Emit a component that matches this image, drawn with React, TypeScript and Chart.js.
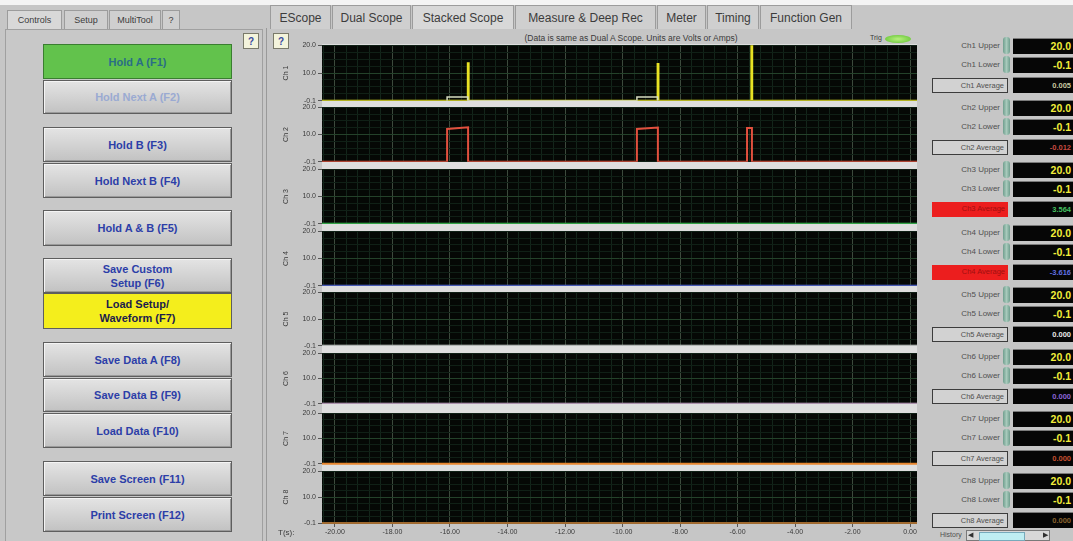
import React, { useEffect, useRef } from "react";
import { Chart, registerables } from "chart.js";

Chart.register(...registerables);

// ---------------- DATA ----------------
const channelNames = ["Ch 1", "Ch 2", "Ch 3", "Ch 4", "Ch 5", "Ch 6", "Ch 7", "Ch 8"];
const channelColors = ["#e8e224", "#e2503e", "#3fcf5a", "#5a6ee8", "#e8e8e8", "#e0b8e0", "#e8862e", "#a06a30"];
const yTickLabels = ["-0.1", "10.0", "20.0"];
const yMin = -0.1;
const yMax = 20.0;
const xMin = -20.45;
const xMax = 0.24;

const baselineTimes = [-20.45, 0.24];
const baselineValues = [-0.1, -0.1];

const ch1Times = [-20.45, -15.38, -15.38, -15.35, -15.35, -8.78, -8.78, -8.75, -8.75, -5.52, -5.52, -5.49, -5.49, 0.24];
const ch1Values = [-0.1, -0.1, 13.5, 13.5, -0.1, -0.1, 13.2, 13.2, -0.1, -0.1, 20.0, 20.0, -0.1, -0.1];
const ch1StepTimes = [-16.1, -16.1, -15.38, -15.38, -9.5, -9.5, -8.78, -8.78];
const ch1StepValues = [-0.1, 1.3, 1.3, -0.1, -0.1, 1.3, 1.3, -0.1];

const ch2Times = [-20.45, -16.1, -16.1, -15.37, -15.37, -9.5, -9.5, -8.77, -8.77, -5.67, -5.67, -5.5, -5.5, 0.24];
const ch2Values = [-0.1, -0.1, 12.0, 12.6, -0.1, -0.1, 12.0, 12.5, -0.1, -0.1, 12.3, 12.3, -0.1, -0.1];

const upperValues = ["20.0", "20.0", "20.0", "20.0", "20.0", "20.0", "20.0", "20.0"];
const lowerValues = ["-0.1", "-0.1", "-0.1", "-0.1", "-0.1", "-0.1", "-0.1", "-0.1"];
const averageValues = ["0.005", "-0.012", "3.564", "-3.616", "0.000", "0.000", "0.000", "0.000"];
const averageColors = ["#c8c8a0", "#c84a40", "#44c060", "#6070e0", "#e6e6e6", "#8a64d8", "#c45030", "#8a6430"];
const averageAlarm = [false, false, true, true, false, false, false, false];

// ---------------- LAYOUT ----------------
const panelTops = [45, 107, 169, 231, 292, 353, 413, 471];
const panelBottoms = [101, 162, 224, 286, 346, 404, 464, 523];
const PLOT_LEFT = 322;
const PLOT_RIGHT = 917;
const CANVAS_LEFT = 279;
const PAD = 6;
const XAXIS_H = 15;

const FONT = "'Liberation Sans', Arial, sans-serif";

function toPoints(xs: number[], ys: number[]) {
  return xs.map((x, i) => ({ x, y: ys[i] }));
}

const plotBg = {
  id: "plotBg",
  beforeDraw(chart: any) {
    const { ctx, chartArea } = chart;
    if (!chartArea) return;
    ctx.save();
    ctx.fillStyle = "#050805";
    ctx.fillRect(chartArea.left, chartArea.top, chartArea.right - chartArea.left, chartArea.bottom - chartArea.top);
    ctx.restore();
  },
};

function isMajorX(v: number) {
  return Math.abs(v / 2 - Math.round(v / 2)) < 1e-6;
}

function ScopePanel({ index }: { index: number }) {
  const ref = useRef<HTMLCanvasElement | null>(null);
  const isBottom = index === 7;
  const top = panelTops[index] - PAD;
  const plotH = panelBottoms[index] - panelTops[index];
  const height = plotH + PAD + (isBottom ? XAXIS_H : PAD);
  const width = PLOT_RIGHT + 5 - CANVAS_LEFT;

  useEffect(() => {
    if (!ref.current) return;
    const datasets: any[] = [];
    if (index === 0) {
      datasets.push({
        data: toPoints(ch1StepTimes, ch1StepValues),
        borderColor: "#d6dcc0",
        borderWidth: 1.5,
        pointRadius: 0,
        clip: 0,
      });
      datasets.push({
        data: toPoints(ch1Times, ch1Values),
        borderColor: channelColors[0],
        borderWidth: 2,
        pointRadius: 0,
        clip: 0,
      });
    } else if (index === 1) {
      datasets.push({
        data: toPoints(ch2Times, ch2Values),
        borderColor: channelColors[1],
        borderWidth: 2,
        pointRadius: 0,
        clip: 0,
      });
    } else {
      const visibleEdge = index >= 6;
      datasets.push({
        data: toPoints(baselineTimes, baselineValues),
        borderColor: channelColors[index],
        borderWidth: 2,
        pointRadius: 0,
        clip: visibleEdge ? 4 : 0,
      });
    }

    const chart = new Chart(ref.current, {
      type: "line",
      data: { datasets },
      plugins: [plotBg],
      options: {
        animation: false,
        responsive: false,
        events: [],
        layout: { padding: { top: PAD, bottom: isBottom ? 0 : PAD, left: 0, right: 5 } },
        plugins: { legend: { display: false }, tooltip: { enabled: false } },
        elements: { line: { tension: 0 } },
        scales: {
          x: {
            type: "linear",
            min: xMin,
            max: xMax,
            afterBuildTicks(scale: any) {
              const t = [];
              for (let i = -1; i <= 50; i++) t.push({ value: -20 + i * 0.4 });
              scale.ticks = t;
            },
            afterFit(scale: any) {
              scale.height = isBottom ? XAXIS_H : 0;
            },
            border: { display: false },
            grid: {
              drawTicks: isBottom,
              tickLength: 4,
              color: (ctx: any) => (ctx.tick && isMajorX(ctx.tick.value) ? "#3c4a3c" : "#13251a"),
              tickColor: (ctx: any) => (ctx.tick && isMajorX(ctx.tick.value) ? "#555" : "rgba(0,0,0,0)"),
              lineWidth: 1,
            },
            ticks: {
              display: isBottom,
              autoSkip: false,
              maxRotation: 0,
              padding: 1,
              color: "#3a3a3a",
              font: { family: FONT, size: 7 },
              callback: (v: any) => (isMajorX(Number(v)) ? Number(v).toFixed(2) : ""),
            },
          },
          y: {
            type: "linear",
            min: yMin,
            max: yMax,
            afterBuildTicks(scale: any) {
              const t = [];
              for (let i = 0; i <= 8; i++) t.push({ value: yMin + (i * (yMax - yMin)) / 8 });
              scale.ticks = t;
            },
            afterFit(scale: any) {
              scale.width = PLOT_LEFT - CANVAS_LEFT;
            },
            border: { display: false },
            title: {
              display: true,
              text: channelNames[index],
              color: "#3a3a3a",
              font: { family: FONT, size: 7 },
              padding: { top: 3, bottom: 0 },
            },
            grid: {
              tickLength: 4,
              color: (ctx: any) => (ctx.index === 4 ? "#24422a" : "#102016"),
              tickColor: (ctx: any) => (ctx.index % 4 === 0 ? "#555" : "rgba(0,0,0,0)"),
            },
            ticks: {
              autoSkip: false,
              padding: 2,
              color: "#3a3a3a",
              font: { family: FONT, size: 7 },
              callback: (_v: any, i: number) => (i === 0 ? yTickLabels[0] : i === 4 ? yTickLabels[1] : i === 8 ? yTickLabels[2] : ""),
            },
          },
        },
      } as any,
    });
    return () => chart.destroy();
  }, [index]);

  return (
    <canvas
      ref={ref}
      width={width}
      height={height}
      style={{ position: "absolute", left: CANVAS_LEFT, top, width, height }}
    />
  );
}

function Btn({ top, h, label, kind }: { top: number; h: number; label: React.ReactNode; kind?: string }) {
  let bg = "linear-gradient(#e4e4e4, #c2c2c2)";
  let color = "#2c3ea8";
  let border = "1px solid #5e5e5e";
  if (kind === "green") {
    bg = "#62c24c";
    color = "#2a6e86";
    border = "1px solid #3a7e30";
  } else if (kind === "disabled") {
    color = "#9aaad2";
  } else if (kind === "yellow") {
    bg = "#f4ee1c";
    color = "#1c1c4c";
  }
  return (
    <div
      style={{
        position: "absolute",
        left: 43,
        top,
        width: 189,
        height: h,
        background: bg,
        border,
        boxSizing: "border-box",
        boxShadow: kind === "yellow" || kind === "green" ? "none" : "inset 1px 1px 0 #f4f4f4, inset -1px -1px 0 #9a9a9a",
        color,
        fontFamily: FONT,
        fontWeight: "bold",
        fontSize: 11,
        lineHeight: "14px",
        display: "flex",
        alignItems: "center",
        justifyContent: "center",
        textAlign: "center",
      }}
    >
      <div>{label}</div>
    </div>
  );
}

function Tab({ left, width, text, top, h, size, active }: any) {
  return (
    <div
      style={{
        position: "absolute",
        left,
        top,
        width,
        height: h,
        boxSizing: "border-box",
        border: "1px solid #9c9c9c",
        borderBottom: "none",
        background: active ? "#d8d8d8" : "#cfcfcf",
        color: "#3c3c3c",
        fontFamily: FONT,
        fontSize: size,
        display: "flex",
        alignItems: "center",
        justifyContent: "center",
        whiteSpace: "nowrap",
      }}
    >
      {text}
    </div>
  );
}

function QBtn({ left, top }: { left: number; top: number }) {
  return (
    <div
      style={{
        position: "absolute",
        left,
        top,
        width: 16,
        height: 16,
        boxSizing: "border-box",
        border: "1px solid #7a7a6a",
        background: "#f4f4dc",
        color: "#3a4aa0",
        fontFamily: FONT,
        fontWeight: "bold",
        fontSize: 10,
        display: "flex",
        alignItems: "center",
        justifyContent: "center",
      }}
    >
      ?
    </div>
  );
}

function Display({ top, text, color, size }: { top: number; text: string; color: string; size: number }) {
  return (
    <div
      style={{
        position: "absolute",
        left: 1013,
        top,
        width: 60,
        height: 16,
        background: "#060606",
        borderTop: "1px solid #7a7a7a",
        boxSizing: "border-box",
        color,
        fontFamily: FONT,
        fontWeight: "bold",
        fontSize: size,
        textAlign: "right",
        paddingRight: 2,
        lineHeight: "15px",
      }}
    >
      {text}
    </div>
  );
}

function Spinner({ top }: { top: number }) {
  return (
    <div
      style={{
        position: "absolute",
        left: 1003,
        top,
        width: 7,
        height: 17,
        borderRadius: 3,
        background: "linear-gradient(90deg,#6f9e8e,#a8cabc,#6f9e8e)",
      }}
    />
  );
}

function ChannelBlock({ n }: { n: number }) {
  const base = 37 + 62.2 * n;
  const name = "Ch" + (n + 1);
  const lbl: React.CSSProperties = {
    position: "absolute",
    right: 1073 - 1000,
    fontFamily: FONT,
    fontSize: 8,
    color: "#505050",
    whiteSpace: "nowrap",
  };
  return (
    <>
      <div style={{ ...lbl, top: base + 4 }}>{name} Upper</div>
      <Spinner top={base} />
      <Display top={base + 1} text={upperValues[n]} color="#f2ee3a" size={10.5} />
      <div style={{ ...lbl, top: base + 23 }}>{name} Lower</div>
      <Spinner top={base + 19} />
      <Display top={base + 20} text={lowerValues[n]} color="#f2ee3a" size={10.5} />
      <div
        style={{
          position: "absolute",
          left: 932,
          top: base + 41,
          width: 76,
          height: 15,
          boxSizing: "border-box",
          border: averageAlarm[n] ? "none" : "1px solid #3c3c3c",
          background: averageAlarm[n] ? "#ec1e1e" : "#d2d2d2",
          color: averageAlarm[n] ? "#a01010" : "#505050",
          fontFamily: FONT,
          fontSize: 7.5,
          textAlign: "right",
          paddingRight: 3,
          lineHeight: "13px",
        }}
      >
        {name} Average
      </div>
      <Display top={base + 40} text={averageValues[n]} color={averageColors[n]} size={7.5} />
    </>
  );
}

export default function App() {
  return (
    <div
      style={{
        position: "fixed",
        left: 0,
        top: 0,
        width: 1073,
        height: 541,
        overflow: "hidden",
        background: "#c6c6c6",
        fontFamily: FONT,
      }}
    >
      <div style={{ position: "absolute", left: 0, top: 0, width: 1073, height: 5, background: "#f4f4f4" }} />
      {/* left tabs */}
      <Tab left={7} top={10} h={19} width={55} text="Controls" size={9} active />
      <Tab left={64} top={10} h={19} width={44} text="Setup" size={9} />
      <Tab left={109} top={10} h={19} width={52} text="MultiTool" size={9} />
      <Tab left={162} top={10} h={19} width={18} text="?" size={9} />
      <div
        style={{
          position: "absolute",
          left: 5,
          top: 29,
          width: 258,
          height: 515,
          boxSizing: "border-box",
          border: "1px solid #a0a0a0",
          background: "#c8c8c8",
        }}
      />
      <QBtn left={243} top={33} />
      <Btn top={44} h={35} label="Hold A (F1)" kind="green" />
      <Btn top={80} h={34} label="Hold Next A (F2)" kind="disabled" />
      <Btn top={127} h={35} label="Hold B (F3)" />
      <Btn top={163} h={35} label="Hold Next B (F4)" />
      <Btn top={210} h={36} label="Hold A & B (F5)" />
      <Btn top={258} h={35} label={<>Save Custom<br />Setup (F6)</>} />
      <Btn top={293} h={36} label={<>Load Setup/<br />Waveform (F7)</>} kind="yellow" />
      <Btn top={342} h={35} label="Save Data A (F8)" />
      <Btn top={378} h={34} label="Save Data B (F9)" />
      <Btn top={413} h={35} label="Load Data (F10)" />
      <Btn top={461} h={35} label="Save Screen (F11)" />
      <Btn top={497} h={35} label="Print Screen (F12)" />

      {/* middle tabs */}
      <div style={{ position: "absolute", left: 266, top: 28, width: 1, height: 513, background: "#9a9a9a" }} />
      <Tab left={270} top={5} h={24} width={61} text="EScope" size={12} />
      <Tab left={332} top={5} h={24} width={79} text="Dual Scope" size={12} />
      <Tab left={412} top={5} h={24} width={102} text="Stacked Scope" size={12} active />
      <Tab left={515} top={5} h={24} width={141} text="Measure & Deep Rec" size={12} />
      <Tab left={657} top={5} h={24} width={49} text="Meter" size={12} />
      <Tab left={707} top={5} h={24} width={52} text="Timing" size={12} />
      <Tab left={760} top={5} h={24} width={92} text="Function Gen" size={12} />
      <QBtn left={273} top={33} />
      <div
        style={{
          position: "absolute",
          left: 481,
          top: 33,
          width: 300,
          textAlign: "center",
          fontSize: 8.5,
          color: "#3a3a3a",
          whiteSpace: "nowrap",
        }}
      >
        (Data is same as Dual A Scope. Units are Volts or Amps)
      </div>
      <div style={{ position: "absolute", left: 870, top: 34, fontSize: 7, color: "#3a3a3a" }}>Trig</div>
      <div
        style={{
          position: "absolute",
          left: 885,
          top: 35,
          width: 26,
          height: 8,
          borderRadius: "50%",
          background: "radial-gradient(#b8f080, #5cc02c)",
        }}
      />
      <div
        style={{
          position: "absolute",
          left: PLOT_LEFT,
          top: 44,
          width: PLOT_RIGHT - PLOT_LEFT,
          height: 480,
          background: "#dedede",
        }}
      />
      {channelNames.map((_, i) => (
        <ScopePanel key={i} index={i} />
      ))}
      <div style={{ position: "absolute", left: 278, top: 528, fontSize: 8, color: "#3a3a3a" }}>T(s):</div>

      {/* right panel */}
      {channelNames.map((_, i) => (
        <ChannelBlock key={i} n={i} />
      ))}
      <div style={{ position: "absolute", left: 940, top: 531, fontSize: 7, color: "#505050" }}>History</div>
      <div
        style={{
          position: "absolute",
          left: 966,
          top: 530,
          width: 84,
          height: 11,
          boxSizing: "border-box",
          border: "1px solid #7a7a7a",
          background: "#d8d8d8",
        }}
      >
        <div style={{ position: "absolute", left: 1, top: 0, fontSize: 7, color: "#303030" }}>◀</div>
        <div style={{ position: "absolute", left: 12, top: 1, width: 44, height: 7, background: "#bfeef2", border: "1px solid #7ab" }} />
        <div style={{ position: "absolute", right: 1, top: 0, fontSize: 7, color: "#303030" }}>▶</div>
      </div>
    </div>
  );
}
